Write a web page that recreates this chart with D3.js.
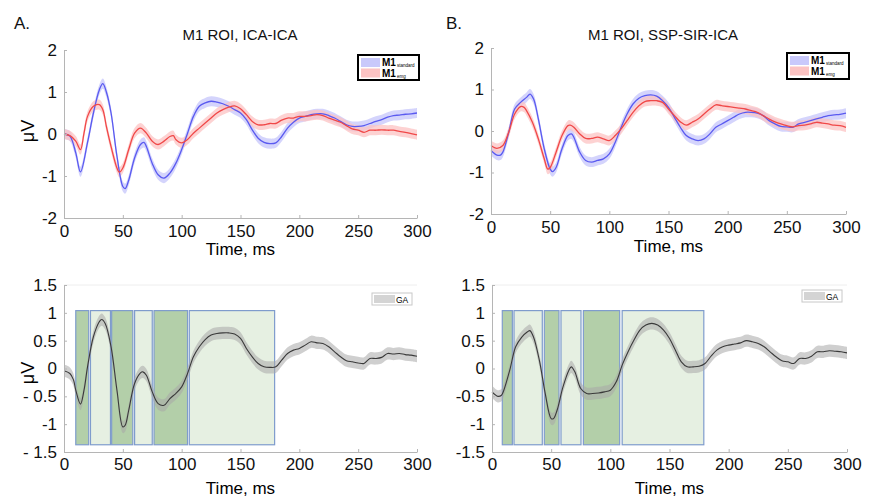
<!DOCTYPE html>
<html>
<head>
<meta charset="utf-8">
<script src="https://cdn.jsdelivr.net/npm/d3@7"></script>
<style>
  body { margin: 0; background: #fff; }
  svg { display: block; font-family: "Liberation Sans", Arial, sans-serif; }
</style>
</head>
<body>
<svg id="fig" width="881" height="501"></svg>
<script>
// ---- data (time in ms, amplitude in µV) ----
const tA_std = [0,5,10,14,20,25,30,33,36,40,45,50,52,55,60,65,68,70,75,80,85,90,95,100,105,110,115,120,125,130,135,140,145,150,155,160,165,170,175,180,185,190,195,200,205,210,215,220,225,230,235,240,245,250,255,260,265,270,275,280,285,290,295,300];
const vA_std = [0,-0.05,-0.45,-0.9,-0.2,0.5,1.05,1.2,1.0,0.5,-0.53,-1.25,-1.3,-1.1,-0.57,-0.25,-0.2,-0.3,-0.7,-0.97,-1.05,-0.93,-0.7,-0.37,0.02,0.42,0.66,0.74,0.78,0.76,0.72,0.66,0.58,0.5,0.34,0.1,-0.1,-0.2,-0.23,-0.21,-0.06,0.14,0.28,0.38,0.42,0.46,0.48,0.48,0.44,0.38,0.3,0.22,0.18,0.18,0.2,0.25,0.3,0.34,0.4,0.44,0.45,0.47,0.48,0.5];

const tA_emg = [0,5,10,14,17,20,25,30,33,36,40,45,47,50,55,60,65,70,75,80,85,90,93,95,100,105,110,115,120,125,130,135,140,145,150,155,160,165,170,175,180,185,190,195,200,205,210,215,220,225,230,235,240,245,250,255,260,265,270,275,280,285,290,295,300];
const vA_emg = [0,-0.04,-0.17,-0.37,0.02,0.42,0.66,0.7,0.58,0.18,-0.3,-0.81,-0.91,-0.81,-0.37,0.02,0.14,0.02,-0.17,-0.25,-0.17,-0.06,-0.04,-0.13,-0.21,-0.13,0.02,0.14,0.26,0.38,0.5,0.58,0.64,0.67,0.6,0.46,0.3,0.22,0.22,0.25,0.25,0.33,0.38,0.38,0.42,0.42,0.44,0.46,0.44,0.38,0.33,0.28,0.2,0.12,0.09,0.04,0.09,0.09,0.1,0.09,0.09,0.06,0.04,0.01,-0.02];

const tB_std = [0,5,8,10,15,20,25,30,33,36,40,45,50,52,55,60,65,68,70,75,80,85,90,95,100,105,110,115,120,125,130,135,140,145,150,155,160,165,170,175,180,185,190,195,200,205,210,215,220,225,230,235,240,245,250,255,260,265,270,275,280,285,290,295,300];
const vB_std = [-0.47,-0.58,-0.58,-0.51,-0.03,0.53,0.69,0.81,0.89,0.77,0.29,-0.43,-0.92,-0.98,-0.88,-0.43,-0.11,-0.07,-0.15,-0.51,-0.71,-0.75,-0.71,-0.67,-0.55,-0.27,0.09,0.41,0.65,0.79,0.85,0.87,0.84,0.73,0.57,0.33,0.09,-0.11,-0.19,-0.23,-0.19,-0.07,0.09,0.17,0.25,0.33,0.41,0.45,0.45,0.43,0.37,0.25,0.17,0.11,0.1,0.09,0.17,0.21,0.25,0.29,0.33,0.37,0.39,0.4,0.43];

const tB_emg = [0,5,10,15,20,25,28,30,35,40,45,48,50,55,60,65,67,70,75,80,85,90,95,100,105,110,115,120,125,130,135,140,145,150,155,160,165,170,175,180,185,190,195,200,205,210,215,220,225,230,235,240,245,250,255,260,265,270,275,280,285,290,295,300];
const vB_emg = [-0.35,-0.42,-0.35,-0.03,0.41,0.59,0.57,0.49,0.21,-0.19,-0.67,-0.92,-0.88,-0.51,-0.11,0.13,0.14,0.09,-0.07,-0.18,-0.18,-0.15,-0.19,-0.23,-0.11,0.05,0.25,0.45,0.61,0.71,0.73,0.73,0.69,0.53,0.37,0.22,0.14,0.21,0.29,0.41,0.53,0.63,0.61,0.59,0.57,0.55,0.53,0.49,0.45,0.37,0.29,0.22,0.17,0.13,0.1,0.13,0.14,0.17,0.21,0.19,0.17,0.14,0.13,0.09];

const tA_ga = [0,5,8,10,14,17,20,25,30,32,35,40,45,50,52,55,60,65,67,70,75,80,85,90,95,100,105,110,115,120,125,130,135,140,145,150,155,160,165,170,175,180,185,190,195,200,205,210,215,220,225,230,235,240,245,250,255,260,265,270,275,280,285,290,295,300];
const vA_ga = [-0.04,-0.09,-0.2,-0.39,-0.64,-0.39,0.03,0.57,0.84,0.88,0.81,0.39,-0.39,-1.05,-1.02,-0.75,-0.27,-0.08,-0.06,-0.12,-0.42,-0.63,-0.66,-0.54,-0.45,-0.33,-0.09,0.21,0.39,0.52,0.6,0.63,0.64,0.64,0.62,0.54,0.36,0.21,0.09,0.03,0.02,0.03,0.15,0.27,0.33,0.36,0.42,0.48,0.46,0.45,0.39,0.3,0.21,0.14,0.12,0.1,0.09,0.18,0.18,0.2,0.27,0.26,0.27,0.25,0.24,0.22];

const tB_ga = [0,5,8,10,15,20,25,30,32,35,40,45,50,52,55,60,65,67,70,75,80,85,90,95,100,105,110,115,120,125,130,135,140,145,150,155,160,165,170,175,180,185,190,195,200,205,210,215,220,225,230,235,240,245,250,255,260,265,270,275,280,285,290,295,300];
const vB_ga = [-0.42,-0.5,-0.48,-0.39,-0.03,0.39,0.56,0.66,0.68,0.57,0.15,-0.45,-0.9,-0.9,-0.75,-0.33,-0.03,0.03,-0.06,-0.36,-0.45,-0.45,-0.44,-0.42,-0.39,-0.24,0.06,0.3,0.51,0.69,0.78,0.81,0.78,0.69,0.54,0.33,0.12,0.03,0.03,0.04,0.09,0.22,0.33,0.39,0.42,0.44,0.46,0.5,0.48,0.45,0.39,0.3,0.21,0.14,0.12,0.09,0.18,0.18,0.22,0.3,0.3,0.32,0.31,0.3,0.28];

// analysis windows (ms) and which ones are shaded dark
const winA = [[10, 21], [22.5, 39.5], [40.5, 58.5], [60, 75], [76.5, 105], [106.5, 179]];
const winB = [[8.7, 17.2], [18.6, 42.5], [44.2, 56.6], [58.3, 75.2], [77.2, 107.9], [110, 179]];
const winDark = [true, false, true, false, true, false];
const winRange = [-1.37, 1.04];

const xTicks = [0, 50, 100, 150, 200, 250, 300];
const yTicksTop = [-2, -1, 0, 1, 2];
const yTicksBot = [-1.5, -1, -0.5, 0, 0.5, 1, 1.5];
const yLabelsBotA = ['- 1.5', '-1', '- 0.5', '0', '0.5', '1', '1.5'];
const yLabelsBotB = ['-1.5', '-1', '-0.5', '0', '0.5', '1', '1.5'];

const svg = d3.select('#fig');

const drawPanel = (cfg) => {
    const x = d3.scaleLinear().domain([0, 300]).range(cfg.xr);
    const y = d3.scaleLinear().domain(cfg.yd).range(cfg.yr);
    const g = svg.append('g');

    if (cfg.topLine) {
        g.append('line')
            .attr('x1', cfg.xr[0]).attr('x2', cfg.xr[1])
            .attr('y1', cfg.yr[1]).attr('y2', cfg.yr[1])
            .attr('stroke', '#eeeeee');
    }

    // shaded windows
    if (cfg.windows) {
        g.selectAll('rect.win')
            .data(cfg.windows)
            .join('rect')
            .attr('class', 'win')
            .attr('x', d => x(d[0]))
            .attr('width', d => x(d[1]) - x(d[0]))
            .attr('y', y(winRange[1]))
            .attr('height', y(winRange[0]) - y(winRange[1]))
            .attr('fill', (d, i) => winDark[i] ? '#b3cfa9' : '#e6f0e2')
            .attr('stroke', '#7f9ccc')
            .attr('stroke-width', 1.2);
    }

    const band = d3.area()
        .x(d => x(d.t))
        .y0(d => y(d.v - d.hw))
        .y1(d => y(d.v + d.hw))
        .curve(d3.curveCatmullRom);
    const line = d3.line()
        .x(d => x(d.t))
        .y(d => y(d.v))
        .curve(d3.curveCatmullRom);

    cfg.series.forEach(s => {
        const data = s.t.map((t, i) => ({ t: t, v: s.v[i], hw: s.hw }));
        g.append('path').datum(data)
            .attr('fill', s.band).attr('fill-opacity', s.bandOp)
            .attr('d', band);
    });
    cfg.series.forEach(s => {
        const data = s.t.map((t, i) => ({ t: t, v: s.v[i] }));
        g.append('path').datum(data)
            .attr('fill', 'none')
            .attr('stroke', s.color)
            .attr('stroke-width', s.lw)
            .attr('d', line);
    });

    // axes (short inward ticks, grey axis lines)
    const xa = g.append('g')
        .attr('transform', 'translate(0,' + cfg.yr[0] + ')')
        .call(d3.axisBottom(x).tickValues(xTicks).tickSizeInner(-3).tickSizeOuter(0).tickPadding(cfg.pad + 3));
    const ya = g.append('g')
        .attr('transform', 'translate(' + cfg.xr[0] + ',0)')
        .call(d3.axisLeft(y).tickValues(cfg.yticks).tickSizeInner(-3).tickSizeOuter(0).tickPadding(7)
            .tickFormat((d, i) => cfg.ylabels ? cfg.ylabels[i] : String(d)));
    [xa, ya].forEach(a => {
        a.select('.domain').attr('stroke', '#b5b5b5');
        a.selectAll('.tick line').attr('stroke', '#b5b5b5');
        a.selectAll('text').attr('fill', '#111').style('font-size', cfg.fs + 'px')
            .style('font-family', '"Liberation Sans", Arial, sans-serif');
    });

    g.append('text')
        .attr('x', (cfg.xr[0] + cfg.xr[1]) / 2)
        .attr('y', cfg.xlabY)
        .attr('text-anchor', 'middle')
        .style('font-size', '17px')
        .text('Time, ms');

    if (cfg.ylab) {
        g.append('text')
            .attr('transform', 'translate(34,' + cfg.ylabY + ') rotate(-90)')
            .attr('text-anchor', 'middle')
            .style('font-size', '18px')
            .text('μV');
    }
    return { x: x, y: y };
};

const blue = { color: '#5a5af0', band: '#c9c9fb', bandOp: 0.8, lw: 1.3, hw: 0.12 };
const red = { color: '#f04848', band: '#fcc3c3', bandOp: 0.75, lw: 1.3, hw: 0.12 };
const gray = { color: '#3a3a3a', band: '#a8a8a8', bandOp: 0.55, lw: 1.1, hw: 0.11 };

drawPanel({
    xr: [64, 417], yd: [-2, 2], yr: [218, 50], yticks: yTicksTop, fs: 17, pad: 4,
    xlabY: 255, ylab: true, ylabY: 131,
    series: [Object.assign({ t: tA_std, v: vA_std }, blue), Object.assign({ t: tA_emg, v: vA_emg }, red)]
});
drawPanel({
    xr: [491, 846], yd: [-2, 2], yr: [214, 48], yticks: yTicksTop, fs: 17, pad: 4,
    xlabY: 252, ylab: false,
    series: [Object.assign({ t: tB_std, v: vB_std }, blue), Object.assign({ t: tB_emg, v: vB_emg }, red)]
});
drawPanel({
    xr: [64, 417], yd: [-1.5, 1.5], yr: [452, 285], yticks: yTicksBot, ylabels: yLabelsBotA, fs: 17, pad: 3,
    xlabY: 494, ylab: true, ylabY: 373, topLine: true, windows: winA,
    series: [Object.assign({ t: tA_ga, v: vA_ga }, gray)]
});
drawPanel({
    xr: [492, 847], yd: [-1.5, 1.5], yr: [452, 285], yticks: yTicksBot, ylabels: yLabelsBotB, fs: 17, pad: 3,
    xlabY: 494, ylab: false, topLine: true, windows: winB,
    series: [Object.assign({ t: tB_ga, v: vB_ga }, gray)]
});

// panel letters and titles
const txt = (x, y, s, size, anchor) => svg.append('text')
    .attr('x', x).attr('y', y).attr('text-anchor', anchor || 'start')
    .style('font-size', size + 'px').attr('fill', '#111').text(s);
txt(14, 29, 'A.', 17);
txt(446, 29, 'B.', 17);
txt(240, 40, 'M1 ROI, ICA-ICA', 15, 'middle');
txt(663, 40, 'M1 ROI, SSP-SIR-ICA', 15, 'middle');

// legends of the top panels
const topLegend = (x0, y0, w, h) => {
    const g = svg.append('g');
    g.append('rect').attr('x', x0).attr('y', y0).attr('width', w).attr('height', h)
        .attr('fill', '#fff').attr('stroke', '#000').attr('stroke-width', 2);
    [[blue.band, 'standard'], [red.band, 'emg']].forEach((d, i) => {
        const yy = y0 + 3 + i * 10.5;
        g.append('rect').attr('x', x0 + 3).attr('y', yy).attr('width', 19).attr('height', 9)
            .attr('fill', d[0]);
        const t = g.append('text').attr('x', x0 + 24).attr('y', yy + 8)
            .style('font-size', '10px').style('font-weight', 'bold').text('M1');
        t.append('tspan').attr('dx', 1).attr('dy', 1).style('font-size', '4.5px').style('font-weight', 'normal').text(d[1]);
    });
};
topLegend(358, 55, 61, 25);
topLegend(787, 53, 62, 26);

// legends of the bottom panels
const gaLegend = (x0, y0) => {
    const g = svg.append('g');
    g.append('rect').attr('x', x0).attr('y', y0).attr('width', 40).attr('height', 12)
        .attr('fill', '#fff').attr('stroke', '#c8c8c8');
    g.append('rect').attr('x', x0 + 2).attr('y', y0 + 2).attr('width', 21).attr('height', 8)
        .attr('fill', '#d4d4d4');
    g.append('text').attr('x', x0 + 24).attr('y', y0 + 9.5)
        .style('font-size', '8.5px').text('GA');
};
gaLegend(372, 293);
gaLegend(802, 290);
</script>
</body>
</html>
